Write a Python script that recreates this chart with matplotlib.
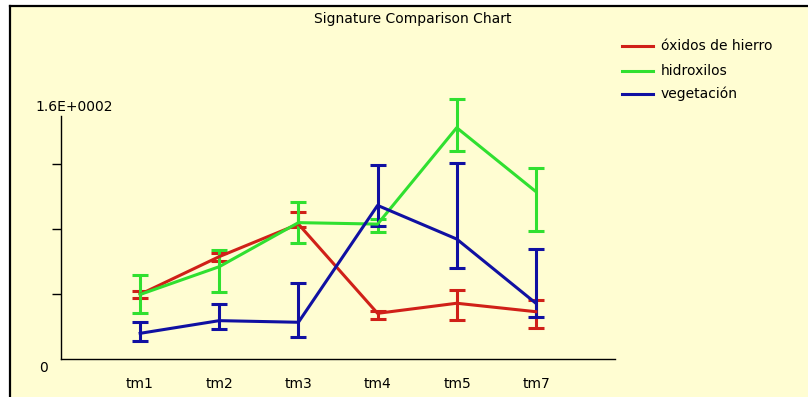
import matplotlib.pyplot as plt
from matplotlib.patches import Rectangle
from matplotlib.lines import Line2D

# Datos
bandas = ['tm1', 'tm2', 'tm3', 'tm4', 'tm5', 'tm7']
series = ['óxidos de hierro', 'hidroxilos', 'vegetación']

oxidos = [39.8, 63.0, 83.0, 28.1, 34.3, 29.1]
oxidos_min = [37.7, 60.5, 81.0, 24.6, 24.0, 18.9]
oxidos_max = [41.8, 65.5, 90.3, 29.6, 42.5, 36.3]

hidroxilos = [39.7, 56.8, 83.9, 83.0, 142.3, 103.0]
hidroxilos_min = [28.1, 41.4, 71.6, 78.3, 128.0, 79.0]
hidroxilos_max = [51.7, 67.0, 96.8, 86.0, 160.0, 117.3]

vegetacion = [15.8, 23.6, 22.6, 94.5, 73.8, 34.3]
vegetacion_min = [11.1, 18.5, 13.3, 81.8, 56.2, 26.0]
vegetacion_max = [23.0, 33.8, 46.6, 119.4, 120.4, 67.7]

colores = ['#d02018', '#30e030', '#1010a2']

W, H = 808, 397
fondo = '#fffdd2'

fig = plt.figure(figsize=(W / 100, H / 100), dpi=100, facecolor='white')
fig.patches.append(Rectangle((10 / W, 0), 1, 1 - 6 / H, transform=fig.transFigure,
                             facecolor=fondo, edgecolor='none', zorder=-5))
fig.add_artist(Line2D([10 / W, 10 / W], [0, 1 - 6 / H], color='black', lw=1.6, transform=fig.transFigure))
fig.add_artist(Line2D([10 / W, 1], [1 - 6 / H, 1 - 6 / H], color='black', lw=1.6, transform=fig.transFigure))

ax = fig.add_axes([61 / W, 1 - 359 / H, (615 - 61) / W, (359 - 116) / H])
ax.set_facecolor('none')
ax.set_zorder(3)

x = list(range(1, len(bandas) + 1))
datos = [(oxidos, oxidos_min, oxidos_max),
         (hidroxilos, hidroxilos_min, hidroxilos_max),
         (vegetacion, vegetacion_min, vegetacion_max)]
for (v, vmin, vmax), c in zip(datos, colores):
    err = [[a - b for a, b in zip(v, vmin)], [b - a for a, b in zip(v, vmax)]]
    ax.errorbar(x, v, yerr=err, color=c, lw=2.2, elinewidth=2.2, capsize=5.8,
                capthick=2.2, clip_on=False)

ax.set_xlim(0, 7)
ax.set_ylim(0, 149.5)
ax.set_xticks([])
ax.set_yticks([40, 80, 120])
ax.set_yticklabels([])
ax.tick_params(axis='y', direction='out', length=6.5, width=1)
for s in ['top', 'right']:
    ax.spines[s].set_visible(False)
for s in ['left', 'bottom']:
    ax.spines[s].set_linewidth(1)

def px(xp, yp):
    return xp / W, 1 - yp / H

fuente = 'DejaVu Sans'
tam = 10
for i, b in enumerate(bandas):
    fig.text(*px(140 + i * 79.3, 384), b, ha='center', va='center', fontsize=tam, family=fuente)
fig.text(*px(43, 368), '0', ha='center', va='center', fontsize=tam, family=fuente)
fig.text(*px(35, 107), '1.6E+0002', ha='left', va='center', fontsize=tam, family=fuente)
fig.text(*px(413, 19), 'Signature Comparison Chart', ha='center', va='center', fontsize=tam, family=fuente)

for i, (nombre, c) in enumerate(zip(series, colores)):
    yy = [46, 71, 94][i]
    fig.add_artist(Line2D([622 / W, 653 / W], [1 - yy / H] * 2, color=c, lw=2.2, transform=fig.transFigure))
    fig.text(*px(661, yy), nombre, ha='left', va='center', fontsize=tam, family=fuente)

fig.savefig('out.png', dpi=100, facecolor=fig.get_facecolor())
